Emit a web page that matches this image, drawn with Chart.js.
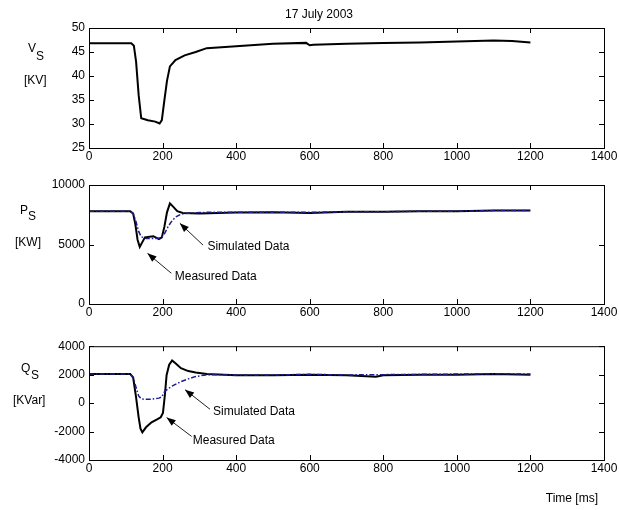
<!DOCTYPE html>
<html lang="en">
<head>
    <meta charset="UTF-8">
    <title>17 July 2003</title>
    <script src="https://cdn.jsdelivr.net/npm/chart.js"></script>
    <style>
        body { margin: 0; background: #fff; }
        #wrap { position: relative; width: 619px; height: 510px; }
        canvas { position: absolute; left: 0; }
    </style>
</head>
<body>
<div id="wrap">
    <canvas id="chartV" width="619" height="170" style="top:0px"></canvas>
    <canvas id="chartP" width="619" height="165" style="top:170px"></canvas>
    <canvas id="chartQ" width="619" height="175" style="top:335px"></canvas>
</div>
<script>
    // Tensao V_S [kV] (medida)
    const tempoV = [0, 50, 115, 122, 128, 135, 142, 160, 180, 192, 198, 205, 212, 220, 235, 260, 290, 320, 360, 400, 500, 590, 600, 610, 700, 800, 900, 1000, 1100, 1150, 1200];
    const vMedido = [46.8, 46.8, 46.8, 46.3, 43, 36, 31.2, 30.8, 30.5, 30.1, 30.8, 35, 39, 42, 43.3, 44.3, 45, 45.8, 46, 46.2, 46.7, 46.9, 46.4, 46.5, 46.7, 46.9, 47.0, 47.2, 47.4, 47.3, 47.0];

    // Potencia ativa P_S [kW]
    const tempoP = [0, 112, 120, 126, 132, 138, 145, 152, 165, 175, 190, 198, 205, 212, 220, 228, 240, 255, 300, 400, 500, 600, 700, 800, 900, 1000, 1100, 1200];
    const pMedido = [7800, 7800, 7600, 6700, 5400, 4800, 5200, 5600, 5660, 5700, 5450, 5600, 6500, 7700, 8450, 8200, 7800, 7650, 7600, 7680, 7700, 7650, 7750, 7750, 7800, 7800, 7850, 7850];
    const tempoPsim = [0, 112, 120, 128, 135, 142, 155, 175, 195, 205, 215, 224, 235, 251, 280, 320, 400, 500, 600, 700, 800, 900, 1000, 1100, 1200];
    const pSimulado = [7800, 7800, 7600, 6900, 6100, 5650, 5500, 5500, 5550, 5900, 6500, 6920, 7300, 7560, 7650, 7700, 7700, 7700, 7700, 7750, 7750, 7800, 7800, 7850, 7850];

    // Potencia reativa Q_S [kVar]
    const tempoQ = [0, 112, 120, 128, 135, 140, 145, 155, 170, 185, 195, 201, 206, 211, 218, 226, 235, 250, 270, 290, 320, 400, 500, 600, 700, 780, 800, 900, 1000, 1100, 1200];
    const qMedido = [2050, 2050, 1800, 400, -1000, -1800, -2050, -1700, -1350, -1150, -1000, -700, 500, 1980, 2700, 3000, 2800, 2450, 2250, 2150, 2050, 1950, 1950, 2000, 1950, 1850, 1950, 2000, 2000, 2050, 2000];
    const tempoQsim = [0, 112, 120, 128, 135, 142, 150, 170, 190, 197, 206, 215, 224, 240, 251, 270, 288, 310, 330, 400, 500, 600, 700, 800, 900, 1000, 1100, 1200];
    const qSimulado = [2050, 2050, 1800, 1100, 500, 300, 260, 280, 350, 420, 830, 1000, 1170, 1380, 1520, 1700, 1860, 1950, 2000, 1980, 1980, 2020, 1980, 2000, 2020, 2040, 2060, 2050];

    const xTicks = [0, 200, 400, 600, 800, 1000, 1200, 1400];

    function pontos(ts, vs) {
        return ts.map((t, i) => ({ x: t, y: vs[i] }));
    }

    const fonte = 'Liberation Sans, Arial, sans-serif';

    // moldura estilo MATLAB com ticks para dentro + textos
    function pluginMoldura(offset, textos, anotacoes) {
        return {
            id: 'moldura',
            afterDraw(chart) {
                const ctx = chart.ctx;
                const a = chart.chartArea;
                const xs = chart.scales.x, ys = chart.scales.y;
                ctx.save();
                ctx.strokeStyle = '#000';
                ctx.lineWidth = 1;
                ctx.strokeRect(a.left + 0.5, a.top + 0.5, a.right - a.left, a.bottom - a.top);
                ctx.beginPath();
                xs.ticks.forEach(t => {
                    const px = Math.round(xs.getPixelForValue(t.value)) + 0.5;
                    ctx.moveTo(px, a.top); ctx.lineTo(px, a.top + 5);
                    ctx.moveTo(px, a.bottom); ctx.lineTo(px, a.bottom - 5);
                });
                ys.ticks.forEach(t => {
                    const py = Math.round(ys.getPixelForValue(t.value)) + 0.5;
                    ctx.moveTo(a.left, py); ctx.lineTo(a.left + 5, py);
                    ctx.moveTo(a.right, py); ctx.lineTo(a.right - 5, py);
                });
                ctx.stroke();

                ctx.fillStyle = '#000';
                ctx.textBaseline = 'middle';
                textos.forEach(t => {
                    ctx.font = (t.size || 12) + 'px ' + fonte;
                    ctx.textAlign = t.align || 'left';
                    ctx.fillText(t.s, t.x, t.y - offset);
                });

                anotacoes.forEach(n => {
                    const hx = xs.getPixelForValue(n.hx), hy = ys.getPixelForValue(n.hy);
                    const tx = xs.getPixelForValue(n.ax), ty = ys.getPixelForValue(n.ay);
                    ctx.strokeStyle = '#222';
                    ctx.beginPath();
                    ctx.moveTo(tx, ty); ctx.lineTo(hx, hy);
                    ctx.stroke();
                    const ang = Math.atan2(hy - ty, hx - tx);
                    ctx.fillStyle = '#000';
                    ctx.beginPath();
                    ctx.moveTo(hx, hy);
                    ctx.lineTo(hx - 9 * Math.cos(ang) + 3.5 * Math.sin(ang), hy - 9 * Math.sin(ang) - 3.5 * Math.cos(ang));
                    ctx.lineTo(hx - 9 * Math.cos(ang) - 3.5 * Math.sin(ang), hy - 9 * Math.sin(ang) + 3.5 * Math.cos(ang));
                    ctx.closePath();
                    ctx.fill();
                    ctx.font = '12px ' + fonte;
                    ctx.textAlign = 'left';
                    ctx.fillText(n.texto, xs.getPixelForValue(n.lx), ys.getPixelForValue(n.ly));
                });
                ctx.restore();
            }
        };
    }

    function criarGrafico(id, datasets, yMin, yMax, yStep, padTop, xAltura, plugin) {
        return new Chart(document.getElementById(id), {
            type: 'line',
            data: { datasets: datasets },
            options: {
                responsive: false,
                animation: false,
                events: [],
                layout: { padding: { top: padTop, right: 15, left: 0, bottom: 0 } },
                plugins: { legend: { display: false }, tooltip: { enabled: false } },
                elements: { point: { radius: 0 }, line: { tension: 0 } },
                scales: {
                    x: {
                        type: 'linear', min: 0, max: 1400,
                        afterBuildTicks: s => { s.ticks = xTicks.map(v => ({ value: v })); },
                        afterFit: s => { s.height = xAltura; },
                        grid: { display: false, drawTicks: false },
                        border: { display: false },
                        ticks: { color: '#000', padding: 1, maxRotation: 0, font: { family: fonte, size: 12 }, callback: v => String(v) }
                    },
                    y: {
                        min: yMin, max: yMax,
                        afterFit: s => { s.width = 89; },
                        grid: { display: false, drawTicks: false },
                        border: { display: false },
                        ticks: { color: '#000', padding: 4, stepSize: yStep, font: { family: fonte, size: 12 }, callback: v => String(v) }
                    }
                }
            },
            plugins: [plugin]
        });
    }

    const estiloMedido = { borderColor: '#000', borderWidth: 2, order: 1 };
    const estiloSimulado = { borderColor: '#1c1c8f', borderWidth: 1.5, borderDash: [5, 2, 1.5, 2], order: 0 };

    criarGrafico('chartV', [
        Object.assign({ label: 'Measured Data', data: pontos(tempoV, vMedido) }, estiloMedido)
    ], 25, 50, 5, 28, 22, pluginMoldura(0, [
        { s: '17 July 2003', x: 319, y: 14.5, align: 'center' },
        { s: 'V', x: 28, y: 49 },
        { s: 'S', x: 36, y: 57 },
        { s: '[KV]', x: 24, y: 80.5 }
    ], []));

    criarGrafico('chartP', [
        Object.assign({ label: 'Measured Data', data: pontos(tempoP, pMedido) }, estiloMedido),
        Object.assign({ label: 'Simulated Data', data: pontos(tempoPsim, pSimulado) }, estiloSimulado)
    ], 0, 10000, 5000, 15, 31, pluginMoldura(170, [
        { s: 'P', x: 20, y: 211 },
        { s: 'S', x: 28, y: 217 },
        { s: '[KW]', x: 15, y: 242.5 }
    ], [
        { texto: 'Simulated Data', lx: 322, ly: 4830, ax: 310, ay: 4950, hx: 247, hy: 6780 },
        { texto: 'Measured Data', lx: 233, ly: 2290, ax: 224, ay: 2580, hx: 159, hy: 4260 }
    ]));

    criarGrafico('chartQ', [
        Object.assign({ label: 'Measured Data', data: pontos(tempoQ, qMedido) }, estiloMedido),
        Object.assign({ label: 'Simulated Data', data: pontos(tempoQsim, qSimulado) }, estiloSimulado)
    ], -4000, 4000, 2000, 9, 50, pluginMoldura(335, [
        { s: 'Q', x: 21, y: 369 },
        { s: 'S', x: 31, y: 376 },
        { s: '[KVar]', x: 13, y: 401 },
        { s: 'Time [ms]', x: 598, y: 498.5, align: 'right' }
    ], [
        { texto: 'Simulated Data', lx: 337, ly: -620, ax: 329, ay: -434, hx: 261, hy: 945 },
        { texto: 'Measured Data', lx: 282, ly: -2620, ax: 279, ay: -2345, hx: 211, hy: -1014 }
    ]));
</script>
</body>
</html>
